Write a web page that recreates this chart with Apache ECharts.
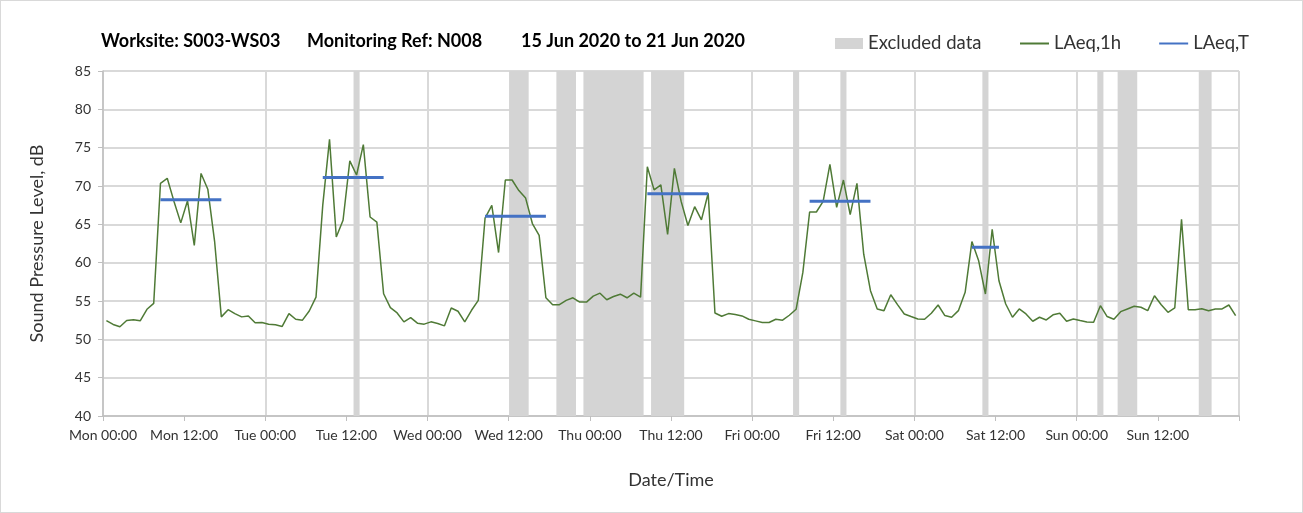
<!DOCTYPE html>
<html>
<head>
<meta charset="utf-8">
<script src="https://cdn.jsdelivr.net/npm/echarts@6/dist/echarts.min.js"></script>
<style>
  html, body { margin: 0; padding: 0; background: #fff; }
  #chart { width: 1303px; height: 513px; box-sizing: border-box; border: 1px solid #d9d9d9; }
</style>
</head>
<body>
<div id="chart"></div>
<script>
// hourly LAeq,1h values, Mon 00:00 .. Sun 23:00 (plotted at the middle of each hour)
const laeq1h = [
  52.45, 51.94, 51.64, 52.45, 52.54, 52.41, 53.92, 54.69, 70.35, 71.0,
  67.99, 65.19, 68.07, 62.26, 71.64, 69.58, 62.82, 52.93, 53.87, 53.36,
  52.93, 53.05, 52.15, 52.19, 51.98, 51.89, 51.68, 53.36, 52.62, 52.5,
  53.7, 55.5, 67.5, 76.08, 63.34, 65.53, 73.28, 71.43, 75.39, 65.96,
  65.28, 55.94, 54.13, 53.44, 52.28, 52.84, 52.11, 51.98, 52.28, 52.07,
  51.76, 54.09, 53.66, 52.28, 53.79, 55.08, 65.8, 67.47, 61.32, 70.78,
  70.78, 69.4, 68.42, 65.1, 63.55, 55.42, 54.52, 54.52, 55.08, 55.42,
  54.86, 54.86, 55.64, 56.02, 55.16, 55.59, 55.89, 55.42, 56.02, 55.51,
  72.5, 69.49, 70.14, 63.68, 72.3, 67.99, 64.84, 67.3, 65.58, 69.06,
  53.44, 53.01, 53.36, 53.23, 53.05, 52.62, 52.41, 52.19, 52.19, 52.62,
  52.5, 53.14, 53.92, 58.73, 66.61, 66.61, 67.99, 72.81, 67.21, 70.78,
  66.27, 70.35, 61.1, 56.34, 53.96, 53.74, 55.82, 54.52, 53.31, 52.97,
  52.66, 52.62, 53.4, 54.48, 53.1, 52.88, 53.74, 56.13, 62.75, 60.24,
  55.91, 64.35, 57.64, 54.61, 52.88, 53.96, 53.31, 52.36, 52.88, 52.53,
  53.2, 53.4, 52.36, 52.66, 52.45, 52.27, 52.23, 54.39, 52.97, 52.62,
  53.61, 53.96, 54.31, 54.18, 53.74, 55.69, 54.52, 53.53, 54.09, 65.65,
  53.87, 53.87, 54.0, 53.74, 53.96, 53.96, 54.48, 53.1
]

// LAeq,T periods (hours from Mon 00:00)
const periodStart = [8.5, 32.5, 56.5, 80.5, 104.5, 128.5]
const periodEnd = [17.5, 41.5, 65.5, 89.5, 113.5, 132.5]
const laeqT = [68.2, 71.1, 66.05, 69.0, 68.0, 62.0]

// excluded data, [from hour, to hour]
const excluded = [
  [37, 38], [60, 63], [67, 70], [71, 80], [81, 86],
  [102, 103], [109, 110], [130, 131], [147, 148], [150, 153], [162, 164]
]

const dayNames = ['Mon', 'Tue', 'Wed', 'Thu', 'Fri', 'Sat', 'Sun']

const FONT = 'Lato'
const GRID_COLOR = '#d9d9d9'
const AXIS_COLOR = '#bfbfbf'
const GREEN = '#4f7a36'
const BLUE = '#4472c4'
const EXCL = '#d4d4d4'

const chart = echarts.init(document.getElementById('chart'))

const lineData = laeq1h.map((v, i) => [i + 0.5, v])

const tSeries = laeqT.map((v, k) => ({
  name: 'LAeq,T',
  type: 'line',
  symbol: 'none',
  z: 4,
  lineStyle: { color: BLUE, width: 3 },
  itemStyle: { color: BLUE },
  data: [[periodStart[k], v], [periodEnd[k], v]]
}))

const titleText = { fontFamily: FONT, fontSize: 18, fontWeight: 'bold', color: '#000' }
const legendText = { fontFamily: FONT, fontSize: 18.5, color: '#333' }

const option = {
  animation: false,
  textStyle: { fontFamily: FONT },
  title: [
    { text: 'Worksite: S003-WS03', left: 100, top: 31, padding: 0, textStyle: titleText },
    { text: 'Monitoring Ref: N008', left: 306, top: 31, padding: 0, textStyle: titleText },
    { text: '15 Jun 2020 to 21 Jun 2020', left: 520, top: 31, padding: 0, textStyle: titleText }
  ],
  legend: [
    {
      left: 834,
      top: 33,
      padding: 0,
      itemWidth: 28,
      itemHeight: 11,
      textStyle: legendText,
      data: [{ name: 'Excluded data', icon: 'rect' }]
    },
    {
      left: 1019,
      top: 33,
      padding: 0,
      itemGap: 38,
      itemWidth: 29,
      itemHeight: 2,
      textStyle: legendText,
      data: [{ name: 'LAeq,1h', icon: 'rect' }, { name: 'LAeq,T', icon: 'rect' }]
    }
  ],
  grid: { left: 102, right: 63, top: 70, bottom: 96 },
  xAxis: [
    {
      type: 'value',
      min: 0,
      max: 168,
      interval: 12,
      name: 'Date/Time',
      nameLocation: 'middle',
      nameGap: 55,
      nameTextStyle: { fontFamily: FONT, fontSize: 18, color: '#333' },
      axisLine: { lineStyle: { color: AXIS_COLOR, width: 1.5 } },
      axisTick: { show: true, length: 5, lineStyle: { color: AXIS_COLOR } },
      axisLabel: {
        fontFamily: FONT,
        fontSize: 14,
        color: '#333',
        margin: 12,
        formatter: v => {
          if (v >= 168) return ''
          const d = Math.floor(v / 24)
          const hh = v % 24
          return dayNames[d] + ' ' + (hh < 10 ? '0' : '') + hh + ':00'
        }
      },
      splitLine: { show: false }
    },
    {
      // day gridlines
      type: 'value',
      min: 0,
      max: 168,
      interval: 24,
      position: 'bottom',
      axisLine: { show: false },
      axisTick: { show: false },
      axisLabel: { show: false },
      splitLine: { show: true, lineStyle: { color: GRID_COLOR, width: 2 } }
    }
  ],
  yAxis: {
    type: 'value',
    min: 40,
    max: 85,
    interval: 5,
    name: 'Sound Pressure Level, dB',
    nameLocation: 'middle',
    nameGap: 57,
    nameTextStyle: { fontFamily: FONT, fontSize: 18, color: '#333' },
    axisLine: { show: true, lineStyle: { color: AXIS_COLOR, width: 1.5 } },
    axisTick: { show: true, length: 5, lineStyle: { color: AXIS_COLOR } },
    axisLabel: { fontFamily: FONT, fontSize: 14, color: '#333', margin: 12 },
    splitLine: { show: true, lineStyle: { color: GRID_COLOR, width: 2 } }
  },
  series: [
    {
      name: 'Excluded data',
      type: 'line',
      symbol: 'none',
      z: 1,
      itemStyle: { color: EXCL },
      lineStyle: { width: 0 },
      data: [],
      markArea: {
        silent: true,
        itemStyle: { color: EXCL },
        data: excluded.map(r => [{ xAxis: r[0] + 0.05 }, { xAxis: r[1] - 0.05 }])
      }
    },
    {
      name: 'LAeq,1h',
      type: 'line',
      symbol: 'none',
      z: 3,
      lineStyle: { color: GREEN, width: 1.5 },
      itemStyle: { color: GREEN },
      data: lineData
    },
    ...tSeries
  ]
}

chart.setOption(option)
</script>
</body>
</html>
